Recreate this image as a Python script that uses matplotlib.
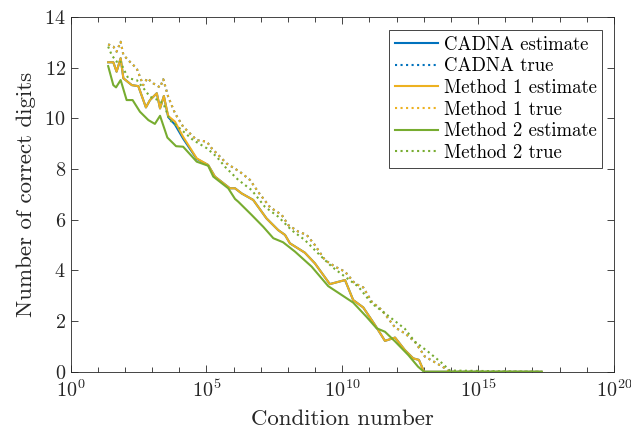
import matplotlib
matplotlib.use("Agg")
import matplotlib.pyplot as plt
from matplotlib.ticker import FixedLocator, NullFormatter, LogFormatterMathtext

plt.rcParams["font.family"] = ["cmr10", "DejaVu Serif"]
plt.rcParams["mathtext.fontset"] = "cm"
plt.rcParams["axes.formatter.use_mathtext"] = True
plt.rcParams["axes.unicode_minus"] = False

# ------------------------------
# data (log10 of condition number, digits)
# ------------------------------
m2_est_exp = [1.38, 1.57, 1.67, 1.84, 2.06, 2.28, 2.55, 2.86, 3.10, 3.29, 3.56, 3.88,
              4.14, 4.64, 5.06, 5.25, 5.80, 6.05, 6.17, 6.66, 7.09, 7.46, 7.82, 8.26,
              8.87, 9.48, 9.85, 10.40, 10.89, 11.26, 11.57, 11.94, 12.43, 12.79, 13.01, 17.34]
m2_est = [12.06, 11.31, 11.22, 11.51, 10.72, 10.72, 10.26, 9.93, 9.78, 10.10, 9.24, 8.90,
          8.88, 8.29, 8.13, 7.70, 7.24, 6.82, 6.71, 6.19, 5.72, 5.27, 5.11, 4.74,
          4.15, 3.38, 3.12, 2.73, 2.17, 1.72, 1.58, 1.20, 0.66, 0.20, 0.0, 0.0]

m1_est_exp = [1.38, 1.57, 1.69, 1.84, 1.94, 2.25, 2.49, 2.77, 2.92, 3.17, 3.29, 3.43,
              3.59, 3.84, 4.14, 4.64, 5.06, 5.31, 5.86, 6.05, 6.29, 6.72, 7.21, 7.64,
              7.89, 8.07, 8.62, 8.99, 9.54, 10.10, 10.40, 10.77, 11.20, 11.57, 11.94,
              12.30, 12.61, 12.82, 13.01, 17.34]
m1_est = [12.21, 12.21, 11.84, 12.37, 11.58, 11.31, 11.27, 10.43, 10.72, 10.99, 10.39, 10.88,
          10.09, 9.87, 9.27, 8.42, 8.16, 7.70, 7.24, 7.24, 7.04, 6.78, 6.05, 5.59,
          5.40, 5.07, 4.70, 4.28, 3.46, 3.62, 2.83, 2.54, 1.85, 1.22, 1.35,
          0.86, 0.53, 0.47, 0.0, 0.0]

cadna_est_exp = m1_est_exp
cadna_est = [12.21, 12.21, 11.84, 12.37, 11.58, 11.31, 11.27, 10.43, 10.72, 10.99, 10.39, 10.88,
             10.05, 9.75, 9.20, 8.40, 8.16, 7.70, 7.24, 7.24, 7.04, 6.78, 6.05, 5.59,
             5.40, 5.07, 4.70, 4.28, 3.46, 3.62, 2.83, 2.54, 1.85, 1.22, 1.35,
             0.86, 0.53, 0.47, 0.0, 0.0]

m1_true_exp = [1.38, 1.57, 1.69, 1.84, 1.94, 2.18, 2.43, 2.67, 2.82, 3.04, 3.29, 3.41,
               3.59, 3.84, 4.14, 4.64, 5.01, 5.19, 5.74, 6.23, 6.60, 6.90, 7.34, 7.77,
               8.01, 8.38, 8.69, 8.99, 9.36, 9.73, 10.10, 10.46, 10.77, 11.08, 11.45,
               11.94, 12.30, 12.67, 13.04, 13.47, 13.84, 13.96, 17.34]
m1_true = [12.92, 12.83, 12.63, 13.02, 12.50, 12.23, 11.97, 11.31, 11.58, 11.38, 11.22, 11.54,
           10.85, 10.20, 9.67, 9.14, 9.08, 8.82, 8.22, 7.89, 7.57, 7.10, 6.49, 6.19,
           5.79, 5.53, 5.40, 5.00, 4.41, 4.15, 3.95, 3.49, 3.33, 2.77, 2.44,
           1.75, 1.52, 1.19, 0.60, 0.34, 0.10, 0.0, 0.0]

cadna_true_exp = m1_true_exp
cadna_true = m1_true

m2_true_exp = [1.38, 1.51, 1.69, 1.81, 1.94, 2.12, 2.43, 2.73, 2.92, 3.22, 3.41, 3.65,
               4.02, 4.51, 5.01, 5.37, 5.68, 6.17, 6.66, 7.15, 7.64, 8.13, 8.62, 9.11,
               9.61, 10.10, 10.59, 11.08, 11.57, 11.94, 12.30, 12.67, 13.16, 13.65,
               13.96, 17.34]
m2_true = [12.83, 12.50, 12.23, 12.30, 11.97, 11.58, 11.51, 11.12, 10.85, 10.72, 10.59, 9.93,
           9.60, 9.14, 8.82, 8.49, 8.09, 7.57, 7.17, 6.51, 6.12, 5.59, 5.20, 4.67,
           4.15, 3.75, 3.36, 2.70, 2.31, 2.00, 1.70, 1.19, 0.79, 0.36,
           0.05, 0.0]

c_blue = (0.0, 0.447, 0.741)
c_yellow = (0.929, 0.694, 0.125)
c_green = (0.466, 0.674, 0.188)

series = [
    (cadna_est_exp, cadna_est, c_blue, "-", "CADNA estimate"),
    (cadna_true_exp, cadna_true, c_blue, ":", "CADNA true"),
    (m1_est_exp, m1_est, c_yellow, "-", "Method 1 estimate"),
    (m1_true_exp, m1_true, c_yellow, ":", "Method 1 true"),
    (m2_est_exp, m2_est, c_green, "-", "Method 2 estimate"),
    (m2_true_exp, m2_true, c_green, ":", "Method 2 true"),
]

fig = plt.figure(figsize=(6.31, 4.34), dpi=100)
ax = fig.add_axes([0.112, 0.1433, 0.861, 0.8177])

for ex, vals, col, ls, lab in series:
    ax.plot([10.0 ** e for e in ex], vals, color=col, linestyle=ls, linewidth=1.5, label=lab)

ax.set_xscale("log")
ax.set_xlim(1e0, 1e20)
ax.set_ylim(0, 14)
ax.xaxis.set_major_locator(FixedLocator([10.0 ** k for k in range(0, 21, 5)]))
ax.xaxis.set_major_formatter(LogFormatterMathtext())
ax.xaxis.set_minor_locator(FixedLocator([10.0 ** k for k in range(0, 21)]))
ax.xaxis.set_minor_formatter(NullFormatter())
ax.set_yticks(range(0, 15, 2))

dark = "#262626"
for sp in ax.spines.values():
    sp.set_color(dark)
    sp.set_linewidth(0.6)
ax.tick_params(which="both", direction="in", top=True, right=True, colors=dark,
               width=0.6, labelsize=14.5)
ax.tick_params(which="major", length=5)
ax.tick_params(which="minor", length=3.5)
ax.tick_params(axis="x", which="major", pad=5.5)

ax.set_xlabel("Condition number", fontsize=16.5, color=dark, labelpad=6)
ax.set_ylabel("Number of correct digits", fontsize=16.5, color=dark, labelpad=6)

leg = ax.legend(loc="upper right", bbox_to_anchor=(0.978, 0.963), fontsize=13.5,
                frameon=True, fancybox=False, edgecolor=dark, framealpha=1,
                handlelength=2.3, handletextpad=0.3, labelspacing=0.2,
                borderpad=0.3, borderaxespad=0)
leg.get_frame().set_linewidth(0.6)

fig.savefig("out.png", dpi=100)
